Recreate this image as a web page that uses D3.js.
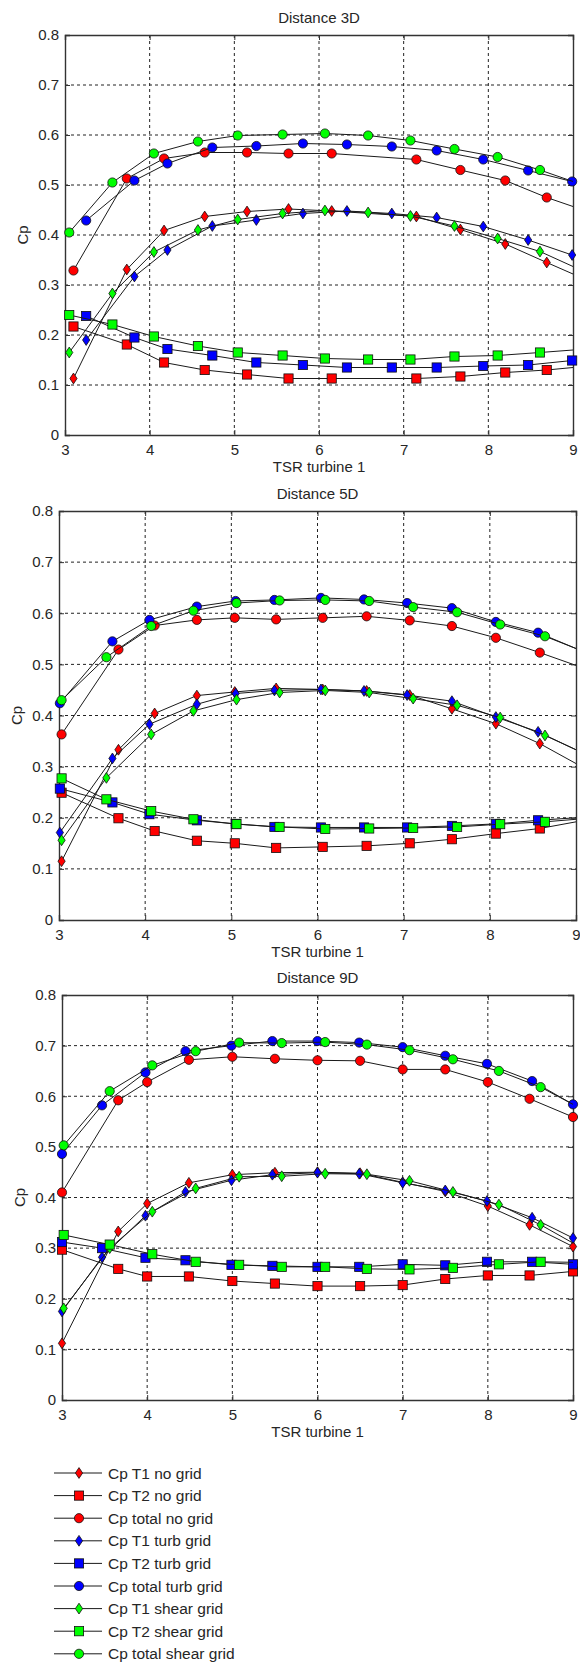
<!DOCTYPE html>
<html>
<head>
<meta charset="utf-8">
<script src="https://cdn.jsdelivr.net/npm/d3@7"></script>
<style>
  html, body { margin: 0; padding: 0; background: #fff; }
  svg { display: block; font-family: "Liberation Sans", Arial, sans-serif; }
</style>
</head>
<body>
<script>
// ---- data (TSR turbine 1 vs Cp) ----
// Distance 3D
const x3D_no    = [3.1, 3.73, 4.17, 4.65, 5.15, 5.64, 6.15, 7.15, 7.67, 8.2, 8.69, 9];
const cpT1_3D_no    = [0.113, 0.331, 0.409, 0.437, 0.447, 0.452, 0.448, 0.437, 0.411, 0.382, 0.345, 0.322];
const cpT2_3D_no    = [0.217, 0.181, 0.145, 0.13, 0.121, 0.113, 0.113, 0.113, 0.117, 0.125, 0.13, 0.135];
const cpTot_3D_no   = [0.329, 0.513, 0.553, 0.565, 0.565, 0.563, 0.563, 0.551, 0.53, 0.509, 0.475, 0.457];
const x3D_turb  = [3.25, 3.82, 4.21, 4.74, 5.26, 5.81, 6.33, 6.86, 7.39, 7.94, 8.47, 8.99];
const cpT1_3D_turb  = [0.19, 0.317, 0.37, 0.418, 0.43, 0.443, 0.448, 0.443, 0.435, 0.417, 0.39, 0.36];
const cpT2_3D_turb  = [0.238, 0.195, 0.172, 0.159, 0.145, 0.14, 0.135, 0.135, 0.135, 0.138, 0.14, 0.149];
const cpTot_3D_turb = [0.429, 0.509, 0.543, 0.575, 0.578, 0.583, 0.581, 0.577, 0.569, 0.551, 0.529, 0.507];
const x3D_shear = [3.05, 3.56, 4.05, 4.57, 5.04, 5.57, 6.07, 6.58, 7.08, 7.6, 8.11, 8.61, 9];
const cpT1_3D_shear  = [0.165, 0.283, 0.366, 0.41, 0.431, 0.443, 0.449, 0.445, 0.438, 0.418, 0.393, 0.367, 0.337];
const cpT2_3D_shear  = [0.24, 0.221, 0.197, 0.178, 0.165, 0.159, 0.153, 0.151, 0.151, 0.157, 0.159, 0.165, 0.17];
const cpTot_3D_shear = [0.405, 0.505, 0.563, 0.587, 0.599, 0.601, 0.603, 0.599, 0.589, 0.572, 0.556, 0.53, 0.507];

// Distance 5D
const x5D_no    = [3.03, 3.69, 4.11, 4.6, 5.04, 5.52, 6.06, 6.57, 7.07, 7.56, 8.07, 8.58, 9];
const cpT1_5D_no    = [0.115, 0.333, 0.404, 0.439, 0.446, 0.453, 0.451, 0.448, 0.44, 0.413, 0.384, 0.345, 0.306];
const cpT2_5D_no    = [0.249, 0.199, 0.174, 0.155, 0.15, 0.141, 0.143, 0.145, 0.15, 0.158, 0.169, 0.179, 0.192];
const cpTot_5D_no   = [0.363, 0.529, 0.576, 0.587, 0.591, 0.588, 0.591, 0.594, 0.586, 0.575, 0.552, 0.523, 0.498];
const x5D_turb  = [3.01, 3.62, 4.05, 4.6, 5.05, 5.5, 6.04, 6.54, 7.04, 7.56, 8.07, 8.56, 9];
const cpT1_5D_turb  = [0.171, 0.316, 0.383, 0.422, 0.443, 0.449, 0.451, 0.448, 0.44, 0.428, 0.397, 0.368, 0.333];
const cpT2_5D_turb  = [0.257, 0.23, 0.207, 0.195, 0.188, 0.182, 0.181, 0.181, 0.181, 0.184, 0.188, 0.195, 0.2];
const cpTot_5D_turb = [0.424, 0.545, 0.587, 0.613, 0.624, 0.626, 0.63, 0.627, 0.62, 0.61, 0.583, 0.562, 0.531];
const x5D_shear = [3.03, 3.55, 4.07, 4.56, 5.06, 5.56, 6.09, 6.6, 7.11, 7.62, 8.12, 8.64, 9];
const cpT1_5D_shear  = [0.156, 0.278, 0.363, 0.409, 0.431, 0.445, 0.449, 0.445, 0.433, 0.42, 0.396, 0.361, 0.333];
const cpT2_5D_shear  = [0.277, 0.236, 0.213, 0.197, 0.1875, 0.182, 0.178, 0.179, 0.18, 0.182, 0.1875, 0.192, 0.197];
const cpTot_5D_shear = [0.43, 0.514, 0.575, 0.605, 0.62, 0.625, 0.626, 0.624, 0.612, 0.602, 0.578, 0.555, 0.531];

// Distance 9D
const x9D_no    = [3.0, 3.66, 4.0, 4.49, 5.0, 5.5, 6.0, 6.5, 7.0, 7.5, 8.0, 8.49, 9.0];
const cpT1_9D_no    = [0.112, 0.333, 0.388, 0.429, 0.445, 0.449, 0.45, 0.448, 0.43, 0.412, 0.383, 0.346, 0.303];
const cpT2_9D_no    = [0.297, 0.259, 0.244, 0.244, 0.235, 0.23, 0.225, 0.225, 0.227, 0.239, 0.246, 0.246, 0.254];
const cpTot_9D_no   = [0.41, 0.592, 0.628, 0.672, 0.678, 0.674, 0.671, 0.67, 0.653, 0.653, 0.628, 0.595, 0.559];
const x9D_turb  = [3.0, 3.47, 3.98, 4.45, 4.99, 5.47, 6.0, 6.49, 7.0, 7.5, 7.99, 8.52, 9.0];
const cpT1_9D_turb  = [0.175, 0.282, 0.364, 0.411, 0.434, 0.445, 0.449, 0.447, 0.429, 0.414, 0.393, 0.36, 0.32];
const cpT2_9D_turb  = [0.312, 0.3, 0.281, 0.276, 0.267, 0.265, 0.263, 0.263, 0.268, 0.266, 0.273, 0.273, 0.268];
const cpTot_9D_turb = [0.486, 0.582, 0.647, 0.689, 0.7, 0.709, 0.709, 0.706, 0.697, 0.68, 0.664, 0.63, 0.584];
const x9D_shear = [3.02, 3.56, 4.06, 4.57, 5.08, 5.58, 6.09, 6.58, 7.08, 7.59, 8.13, 8.62, 9];
const cpT1_9D_shear  = [0.181, 0.3, 0.372, 0.418, 0.441, 0.442, 0.447, 0.446, 0.433, 0.411, 0.386, 0.346, 0.31];
const cpT2_9D_shear  = [0.326, 0.307, 0.288, 0.273, 0.267, 0.263, 0.263, 0.259, 0.258, 0.261, 0.268, 0.273, 0.272];
const cpTot_9D_shear = [0.503, 0.61, 0.661, 0.689, 0.706, 0.705, 0.707, 0.702, 0.691, 0.673, 0.65, 0.618, 0.584];

const xTicks = [3, 4, 5, 6, 7, 8, 9];
const yTicks = [0, 0.1, 0.2, 0.3, 0.4, 0.5, 0.6, 0.7, 0.8];
const legendNames = ["Cp T1 no grid", "Cp T2 no grid", "Cp total no grid",
                     "Cp T1 turb grid", "Cp T2 turb grid", "Cp total turb grid",
                     "Cp T1 shear grid", "Cp T2 shear grid", "Cp total shear grid"];

// ---- layout / style ----
const width = 580, height = 1666;
const gridColors = {no: "#ff0000", turb: "#0000ff", shear: "#00ff00"};
const textColor = "#262626";

// grid -> x values; "tail" means the last point is only a line end (no marker)
function panelSeries(xs, t1, t2, tot, grid, tail) {
    const mk = (ys) => xs.map((x, i) => ({x: x, y: ys[i], mark: !(tail && i === xs.length - 1)}));
    return [
        {grid: grid, shape: "diamond", pts: mk(t1)},
        {grid: grid, shape: "square", pts: mk(t2)},
        {grid: grid, shape: "circle", pts: mk(tot)}
    ];
}

const panels = [
    {title: "Distance 3D", left: 65, right: 573, top: 35, bottom: 435,
     series: [].concat(
        panelSeries(x3D_no, cpT1_3D_no, cpT2_3D_no, cpTot_3D_no, "no", true),
        panelSeries(x3D_turb, cpT1_3D_turb, cpT2_3D_turb, cpTot_3D_turb, "turb", false),
        panelSeries(x3D_shear, cpT1_3D_shear, cpT2_3D_shear, cpTot_3D_shear, "shear", true))},
    {title: "Distance 5D", left: 59, right: 576, top: 511, bottom: 920,
     series: [].concat(
        panelSeries(x5D_no, cpT1_5D_no, cpT2_5D_no, cpTot_5D_no, "no", true),
        panelSeries(x5D_turb, cpT1_5D_turb, cpT2_5D_turb, cpTot_5D_turb, "turb", true),
        panelSeries(x5D_shear, cpT1_5D_shear, cpT2_5D_shear, cpTot_5D_shear, "shear", true))},
    {title: "Distance 9D", left: 62, right: 573, top: 995, bottom: 1400,
     series: [].concat(
        panelSeries(x9D_no, cpT1_9D_no, cpT2_9D_no, cpTot_9D_no, "no", false),
        panelSeries(x9D_turb, cpT1_9D_turb, cpT2_9D_turb, cpTot_9D_turb, "turb", false),
        panelSeries(x9D_shear, cpT1_9D_shear, cpT2_9D_shear, cpTot_9D_shear, "shear", true))}
];

const svg = d3.select("body").append("svg")
    .attr("width", width)
    .attr("height", height);

function drawMarker(g, shape, color) {
    if (shape === "circle") {
        g.append("circle").attr("r", 4.6);
    } else if (shape === "square") {
        g.append("rect").attr("x", -4.6).attr("y", -4.6).attr("width", 9.2).attr("height", 9.2);
    } else {
        g.append("path").attr("d", "M0,-5.4L3.6,0L0,5.4L-3.6,0Z");
    }
    g.selectAll("*")
        .attr("fill", color)
        .attr("stroke", "#111")
        .attr("stroke-width", 0.8);
}

panels.forEach(p => {
    const x = d3.scaleLinear().domain([3, 9]).range([p.left, p.right]);
    const y = d3.scaleLinear().domain([0, 0.8]).range([p.bottom, p.top]);
    const g = svg.append("g");

    // Grid.
    g.append("g").selectAll("line").data(xTicks.slice(1, -1)).join("line")
        .attr("x1", d => x(d)).attr("x2", d => x(d))
        .attr("y1", p.top).attr("y2", p.bottom)
        .attr("stroke", "#222").attr("stroke-width", 1)
        .attr("stroke-dasharray", "3,3");
    g.append("g").selectAll("line").data(yTicks.slice(1, -1)).join("line")
        .attr("x1", p.left).attr("x2", p.right)
        .attr("y1", d => y(d)).attr("y2", d => y(d))
        .attr("stroke", "#222").attr("stroke-width", 1)
        .attr("stroke-dasharray", "3,3");

    // Axes (ticks inward like MATLAB).
    const fmt = d => d === 0 ? "0" : d3.format(".1f")(d);
    const axB = g.append("g").attr("transform", `translate(0,${p.bottom})`)
        .call(d3.axisBottom(x).tickValues(xTicks).tickSize(-5).tickPadding(9).tickFormat(d3.format("d")));
    const axT = g.append("g").attr("transform", `translate(0,${p.top})`)
        .call(d3.axisTop(x).tickValues(xTicks).tickSize(-5).tickFormat(""));
    const axL = g.append("g").attr("transform", `translate(${p.left},0)`)
        .call(d3.axisLeft(y).tickValues(yTicks).tickSize(-5).tickPadding(6).tickFormat(fmt));
    const axR = g.append("g").attr("transform", `translate(${p.right},0)`)
        .call(d3.axisRight(y).tickValues(yTicks).tickSize(-5).tickFormat(""));
    [axB, axT, axL, axR].forEach(a => {
        a.select(".domain").attr("stroke", "#333").attr("stroke-width", 1.4);
        a.selectAll(".tick line").attr("stroke", "#333");
        a.selectAll("text").attr("font-size", 15).attr("fill", textColor)
            .attr("font-family", "Liberation Sans, Arial, sans-serif");
    });

    // Labels.
    g.append("text")
        .attr("x", (p.left + p.right) / 2).attr("y", p.top - 12)
        .attr("text-anchor", "middle").attr("font-size", 15).attr("fill", textColor)
        .text(p.title);
    g.append("text")
        .attr("x", (p.left + p.right) / 2).attr("y", p.bottom + 37)
        .attr("text-anchor", "middle").attr("font-size", 15).attr("fill", textColor)
        .text("TSR turbine 1");
    g.append("text")
        .attr("transform", `translate(${p.left - 37},${(p.top + p.bottom) / 2}) rotate(-90)`)
        .attr("text-anchor", "middle").attr("font-size", 15).attr("fill", textColor)
        .text("Cp");

    // Series: line then markers, in legend order.
    const line = d3.line().x(d => x(d.x)).y(d => y(d.y));
    p.series.forEach(s => {
        g.append("path")
            .attr("d", line(s.pts))
            .attr("fill", "none")
            .attr("stroke", "#1a1a1a")
            .attr("stroke-width", 1);
        s.pts.filter(d => d.mark).forEach(d => {
            const m = g.append("g").attr("transform", `translate(${x(d.x)},${y(d.y)})`);
            drawMarker(m, s.shape, gridColors[s.grid]);
        });
    });
});

// Legend.
const legendShapes = ["diamond", "square", "circle"];
const legendGrids = ["no", "turb", "shear"];
const legend = svg.append("g").attr("transform", "translate(0,1473)");
legendNames.forEach((name, i) => {
    const row = legend.append("g").attr("transform", `translate(0,${i * 22.6})`);
    row.append("line").attr("x1", 54).attr("x2", 102).attr("y1", 0).attr("y2", 0)
        .attr("stroke", "#1a1a1a").attr("stroke-width", 1);
    drawMarker(row.append("g").attr("transform", "translate(79,0)"),
        legendShapes[i % 3], gridColors[legendGrids[Math.floor(i / 3)]]);
    row.append("text").attr("x", 108).attr("y", 5.5)
        .attr("font-size", 15.5).attr("fill", textColor)
        .text(name);
});
</script>
</body>
</html>
